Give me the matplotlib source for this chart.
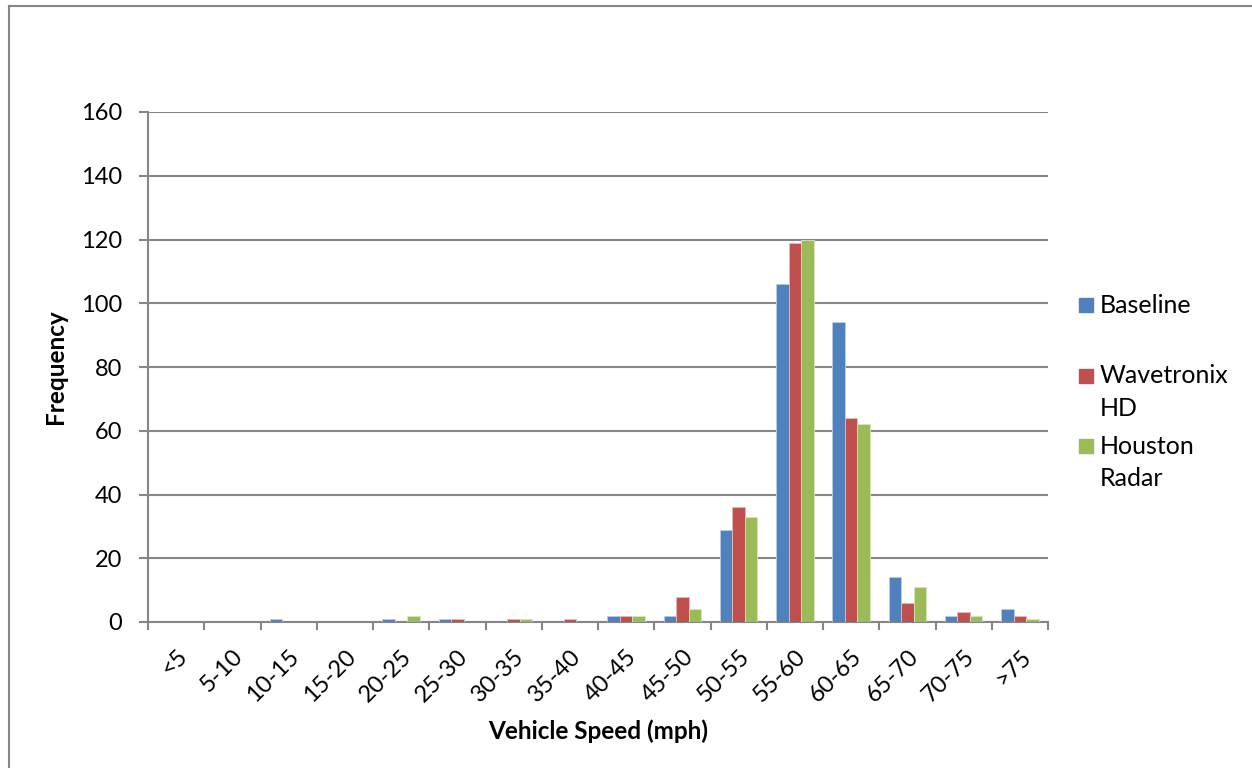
import matplotlib
matplotlib.use("Agg")
import matplotlib.pyplot as plt
import numpy as np
from matplotlib.patches import Rectangle
from matplotlib.lines import Line2D

categories = ["<5", "5-10", "10-15", "15-20", "20-25", "25-30", "30-35", "35-40",
              "40-45", "45-50", "50-55", "55-60", "60-65", "65-70", "70-75", ">75"]
baseline = [0, 0, 1, 0, 1, 1, 0, 0, 2, 2, 29, 106, 94, 14, 2, 4]
wavetronix = [0, 0, 0, 0, 0, 1, 1, 1, 2, 8, 36, 119, 64, 6, 3, 2]
houston = [0, 0, 0, 0, 2, 0, 1, 0, 2, 4, 33, 120, 62, 11, 2, 1]
series_names = ["Baseline", "Wavetronix\nHD", "Houston\nRadar"]
series_values = [baseline, wavetronix, houston]
colors = ["#4F81BD", "#C0504D", "#9BBB59"]
edge_colors = ["#B9CDE5", "#E6B9B8", "#D7E4BD"]

plt.rcParams['font.family'] = ['Lato', 'DejaVu Sans']

fig = plt.figure(figsize=(12.52, 7.68), dpi=100)
ax = fig.add_axes([148/1252, 1-622/768, 900/1252, 510/768])

x = np.arange(len(categories))
w = 0.222
for i, (vals, c, ec) in enumerate(zip(series_values, colors, edge_colors)):
    ax.bar(x + (i-1)*w, vals, width=w, color=c, edgecolor=ec, linewidth=0.6, zorder=3)

ax.set_xlim(-0.5, len(categories)-0.5)
ax.set_ylim(0, 160)
ax.set_yticks(np.arange(0, 161, 20))
ax.yaxis.grid(True, color="#868686", linewidth=1.5, zorder=0)
ax.set_axisbelow(True)

for s in ["top", "right"]:
    ax.spines[s].set_visible(False)
ax.spines["left"].set_color("#868686")
ax.spines["left"].set_linewidth(1.5)
ax.spines["bottom"].set_color("#868686")
ax.spines["bottom"].set_linewidth(1.5)

ax.set_xticks(np.arange(-0.5, len(categories)), minor=False)
ax.set_xticklabels([])
ax.set_xticks(x, minor=True)
ax.set_xticklabels(categories, minor=True, rotation=45, ha="right",
                   rotation_mode="anchor", fontsize=17)
ax.tick_params(axis="x", which="major", length=6, width=1.5, color="#868686", direction="out")
ax.tick_params(axis="x", which="minor", length=0, pad=17)
ax.tick_params(axis="y", length=6.5, width=1.5, color="#868686", labelsize=17, pad=12)

ax.set_xlabel("Vehicle Speed (mph)", fontsize=17.5, fontweight="bold", labelpad=10)
ax.set_ylabel("Frequency", fontsize=17.5, fontweight="bold", labelpad=10)

# legend (manual layout)
leg_y = [305, 376, 446]
for name, c, yy in zip(series_names, colors, leg_y):
    fig.patches.append(Rectangle((1079/1252, 1-(yy+7)/768), 14/1252, 14/768,
                                 transform=fig.transFigure, color=c))
    for j, line in enumerate(name.split("\n")):
        fig.text(1100/1252, 1-(yy + 32*j)/768, line, fontsize=18, va="center", ha="left")

# outer border
fig.add_artist(Line2D([9/1252, 1], [1-6/768, 1-6/768], color="#868686", lw=1.5,
                      transform=fig.transFigure))
fig.add_artist(Line2D([9/1252, 9/1252], [0, 1-6/768], color="#868686", lw=1.5,
                      transform=fig.transFigure))

fig.savefig("out.png", dpi=100)
